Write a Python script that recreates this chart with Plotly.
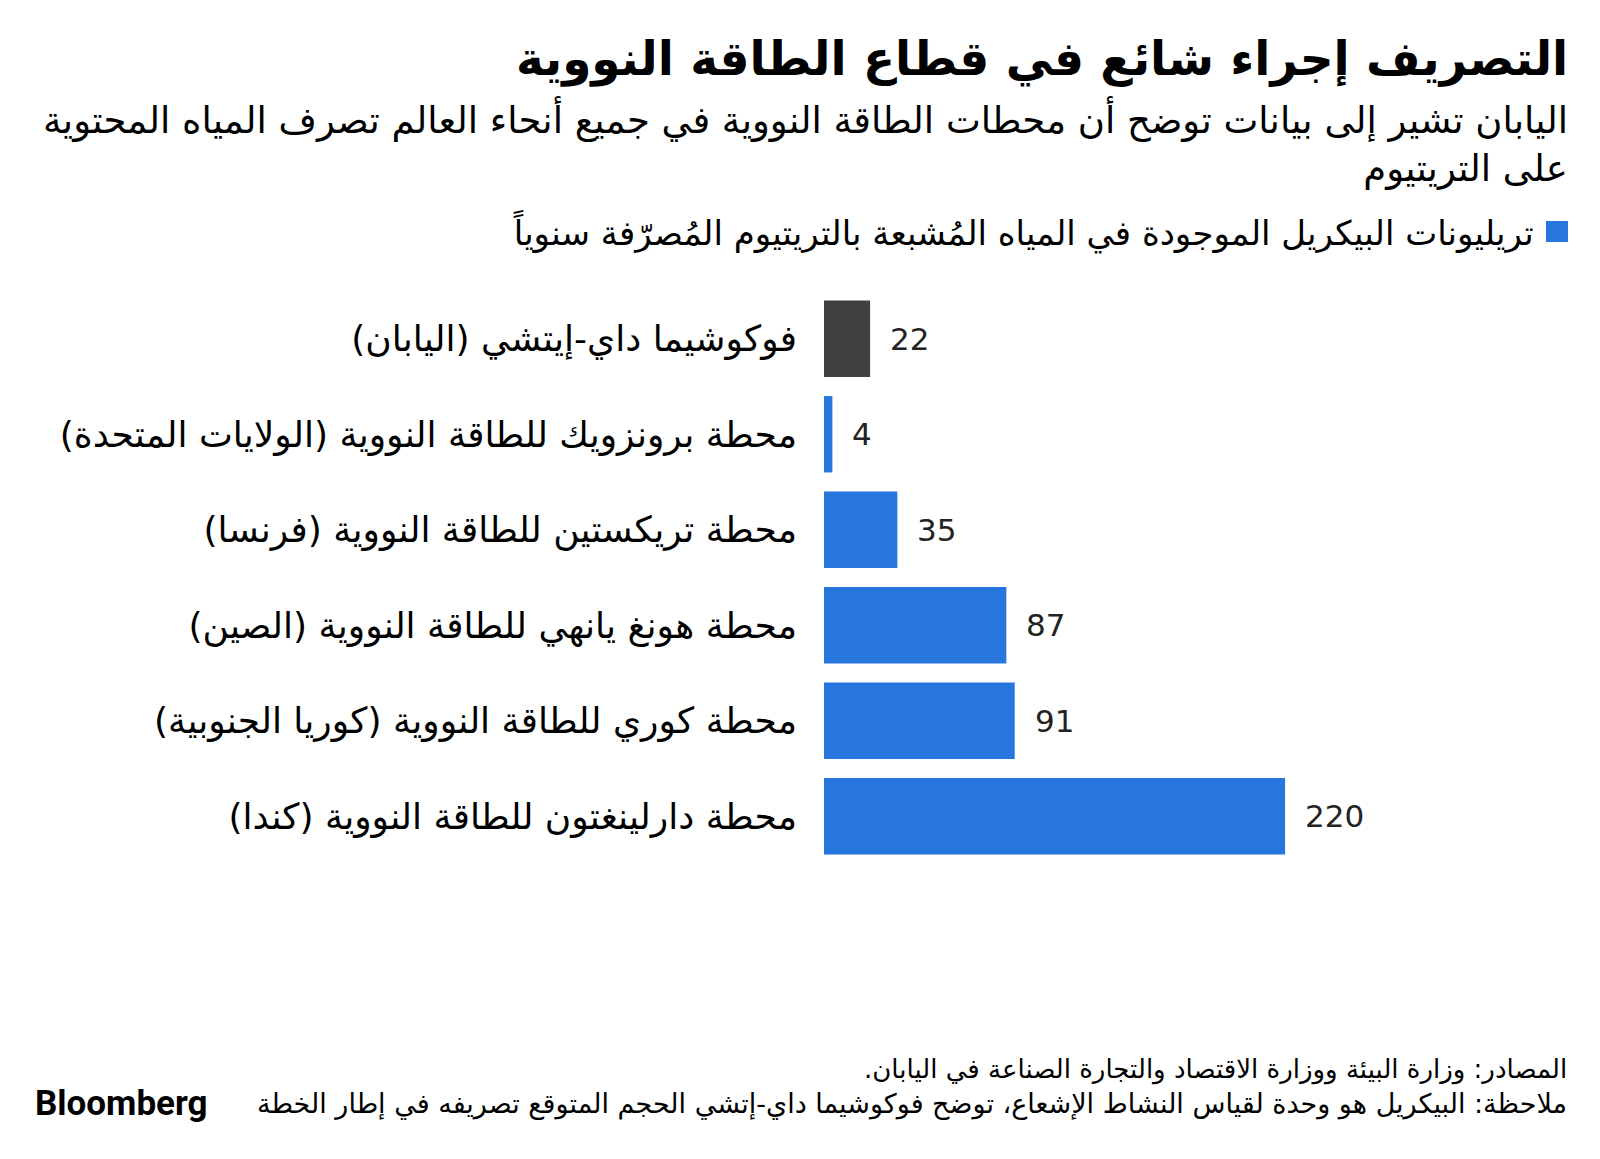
import plotly.graph_objects as go

W, H = 1600, 1159

# data
stations = [
    "فوكوشيما داي-إيتشي (اليابان)",
    "محطة برونزويك للطاقة النووية (الولايات المتحدة)",
    "محطة تريكستين للطاقة النووية (فرنسا)",
    "محطة هونغ يانهي للطاقة النووية (الصين)",
    "محطة كوري للطاقة النووية (كوريا الجنوبية)",
    "محطة دارلينغتون للطاقة النووية (كندا)",
]
tritium = [22, 4, 35, 87, 91, 220]
bar_colors = ["#404040", "#2676DD", "#2676DD", "#2676DD", "#2676DD", "#2676DD"]

title = "التصريف إجراء شائع في قطاع الطاقة النووية"
subtitle = ("اليابان تشير إلى بيانات توضح أن محطات الطاقة النووية في جميع أنحاء العالم تصرف المياه المحتوية"
            "<br>على التريتيوم")
legend_text = "تريليونات البيكريل الموجودة في المياه المُشبعة بالتريتيوم المُصرّفة سنوياً"
source = "المصادر: وزارة البيئة ووزارة الاقتصاد والتجارة الصناعة في اليابان.\u200f"
note = "ملاحظة: البيكريل هو وحدة لقياس النشاط الإشعاع، توضح فوكوشيما داي-إتشي الحجم المتوقع تصريفه في إطار الخطة"

AR = "DejaVu Sans"

# plot area in pixels (page body adds an 8px offset)
L, R, T, B = 816, 281, 283, 303
pw, ph = W - L - R, H - T - B


def px(x):
    return (x - L) / pw


def py(y):
    return 1 - (y - T) / ph


fig = go.Figure()
fig.add_trace(go.Bar(
    x=tritium, y=stations, orientation="h",
    marker=dict(color=bar_colors, line=dict(width=0)),
    hoverinfo="x+y", showlegend=False,
))

# value labels
for s, v in zip(stations, tritium):
    fig.add_annotation(x=v, y=s, xref="x", yref="y", text=str(v),
                       xanchor="left", xshift=18, showarrow=False,
                       font=dict(family="DejaVu Sans", size=31, color="#222222"))

fig.add_annotation(x=px(1562), y=py(51), xref="paper", yref="paper",
                   text="<b>" + title + "</b>", xanchor="right", yanchor="middle",
                   showarrow=False, font=dict(family=AR, size=47, color="#000000"))
fig.add_annotation(x=px(1562), y=py(135), xref="paper", yref="paper",
                   text=subtitle, xanchor="right", yanchor="middle", align="right",
                   showarrow=False, font=dict(family=AR, size=37, color="#000000"))
fig.add_shape(type="rect", xref="paper", yref="paper",
              x0=px(1538), x1=px(1560), y0=py(213), y1=py(234),
              fillcolor="#2676DD", line=dict(width=0))
fig.add_annotation(x=px(1528), y=py(223), xref="paper", yref="paper",
                   text=legend_text, xanchor="right", yanchor="middle",
                   showarrow=False, font=dict(family=AR, size=34, color="#000000"))
fig.add_annotation(x=px(1561), y=py(1061), xref="paper", yref="paper",
                   text=source, xanchor="right", yanchor="middle",
                   showarrow=False, font=dict(family=AR, size=26, color="#000000"))
fig.add_annotation(x=px(1561), y=py(1096), xref="paper", yref="paper",
                   text=note, xanchor="right", yanchor="middle",
                   showarrow=False, font=dict(family=AR, size=27, color="#000000"))
fig.add_annotation(x=px(25), y=py(1095), xref="paper", yref="paper",
                   text="<b>Bloomberg</b>", xanchor="left", yanchor="middle",
                   showarrow=False, font=dict(family="Roboto", size=35, color="#000000"))

fig.update_layout(
    width=W, height=H,
    margin=dict(l=L, r=R, t=T, b=B),
    paper_bgcolor="white", plot_bgcolor="white",
    bargap=0.2,
    xaxis=dict(range=[0, 240], visible=False, fixedrange=True),
    yaxis=dict(autorange="reversed", showgrid=False, zeroline=False, showline=False,
               ticks="", ticklabelstandoff=26,
               tickfont=dict(family=AR, size=36, color="#000000")),
)

fig.write_html("out.html")
